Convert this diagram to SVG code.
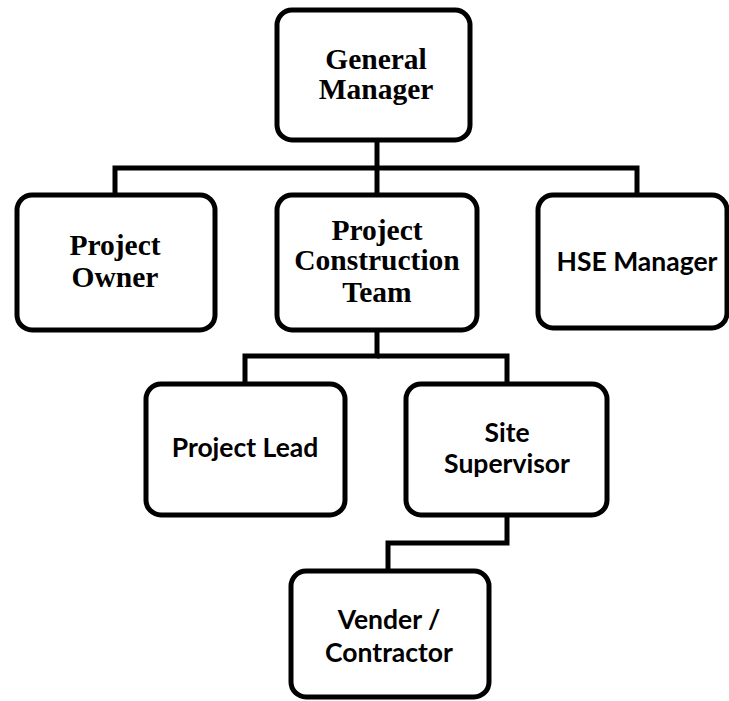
<svg xmlns="http://www.w3.org/2000/svg" width="729" height="701" viewBox="0 0 729 701">
<style>
.box{fill:#fff;stroke:#000;stroke-width:5}
.ln{fill:none;stroke:#000;stroke-width:5;stroke-linejoin:miter}
.serif{font-family:"Liberation Serif","Times New Roman",serif;font-weight:bold;font-size:29.5px;fill:#000;text-anchor:middle}
.sans{font-family:Lato,"Liberation Sans",sans-serif;font-weight:bold;font-size:26.5px;fill:#000;text-anchor:middle}
</style>
<rect width="729" height="701" fill="#fff"/>
<g id="connectors">
<path class="ln" d="M377 140V195"/>
<path class="ln" d="M115 195V168H637V195"/>
<path class="ln" d="M377 330V356H245V384"/>
<path class="ln" d="M377 356H507V384"/>
<path class="ln" d="M507 515V543H388V571"/>
</g>
<g id="general-manager">
<rect class="box" x="277" y="10" width="193" height="130" rx="15"/>
<text class="serif" x="376" y="69">General</text>
<text class="serif" x="376" y="99">Manager</text>
</g>
<g id="project-owner">
<rect class="box" x="17" y="195" width="198" height="135" rx="15"/>
<text class="serif" x="115" y="255">Project</text>
<text class="serif" x="115" y="287">Owner</text>
</g>
<g id="project-construction-team">
<rect class="box" x="277" y="195" width="200" height="135" rx="15"/>
<text class="serif" x="377" y="240">Project</text>
<text class="serif" x="377" y="270">Construction</text>
<text class="serif" x="377" y="302">Team</text>
</g>
<g id="hse-manager">
<rect class="box" x="538" y="195" width="189" height="133" rx="15"/>
<text class="sans" x="637" y="271">HSE Manager</text>
</g>
<g id="project-lead">
<rect class="box" x="146" y="384" width="199" height="131" rx="15"/>
<text class="sans" x="245" y="457">Project Lead</text>
</g>
<g id="site-supervisor">
<rect class="box" x="406" y="384" width="201" height="131" rx="15"/>
<text class="sans" x="507" y="442">Site</text>
<text class="sans" x="507" y="473">Supervisor</text>
</g>
<g id="vender-contractor">
<rect class="box" x="291" y="571" width="198" height="126" rx="15"/>
<text class="sans" x="389" y="629">Vender /</text>
<text class="sans" x="389" y="662">Contractor</text>
</g>
</svg>
